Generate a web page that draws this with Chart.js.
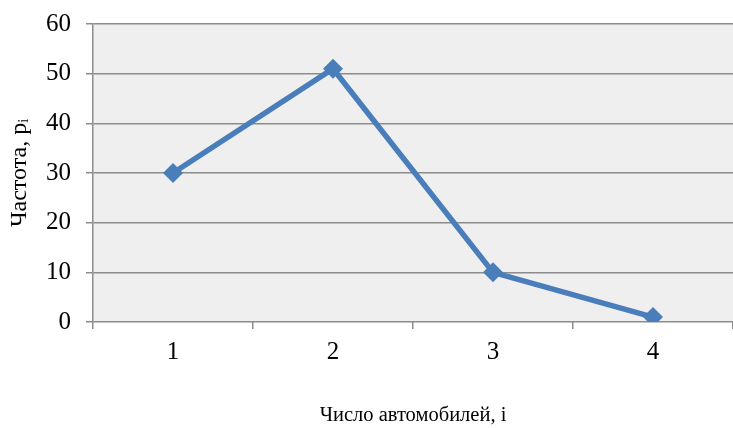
<!DOCTYPE html>
<html>
<head>
<meta charset="utf-8">
<script src="https://cdn.jsdelivr.net/npm/chart.js@4"></script>
<style>
  html, body { margin: 0; padding: 0; background: #fff; }
  #wrap { width: 733px; height: 428px; }
</style>
</head>
<body>
<div id="wrap"><canvas id="chart" width="733" height="428"></canvas></div>
<script>
// chart data
const categories = ['1', '2', '3', '4']
const frequency = [30, 51, 10, 1]
const yTicks = [0, 10, 20, 30, 40, 50, 60]

const FONT = "'Liberation Serif', 'Times New Roman', serif"
const GRID = '#8c8c8c'

// grey plot background
const plotBg = {
  id: 'plotBg',
  beforeDraw (chart) {
    const a = chart.chartArea
    const ctx = chart.ctx
    ctx.save()
    ctx.fillStyle = '#efefef'
    ctx.fillRect(a.left, a.top, a.right - a.left, a.bottom - a.top)
    ctx.restore()
  }
}

new Chart(document.getElementById('chart'), {
  type: 'line',
  data: {
    labels: categories,
    datasets: [{
      data: frequency,
      borderColor: '#4a7ebb',
      backgroundColor: '#4a7ebb',
      borderWidth: 5.5,
      tension: 0,
      pointStyle: 'rectRot',
      pointRadius: 10,
      pointHoverRadius: 10,
      pointBorderWidth: 0
    }]
  },
  options: {
    responsive: false,
    animation: false,
    layout: { autoPadding: false, padding: { top: 24, right: 0, left: 0, bottom: 0 } },
    plugins: {
      legend: { display: false },
      tooltip: { enabled: false }
    },
    scales: {
      x: {
        offset: true,
        grid: { offset: true, drawOnChartArea: false, color: GRID, tickLength: 7, lineWidth: 1.5 },
        border: { display: false },
        ticks: { color: '#000', font: { family: FONT, size: 25 }, padding: 8 },
        title: {
          display: true,
          text: 'Число автомобилей, i',
          color: '#000',
          font: { family: FONT, size: 20.5 },
          padding: { top: 0, bottom: 0 }
        },
        afterFit (scale) {
          scale.height = 106
          scale.paddingLeft = 0
          scale.paddingRight = 0
        }
      },
      y: {
        min: 0,
        max: 60,
        afterBuildTicks (scale) { scale.ticks = yTicks.map(v => ({ value: v })) },
        grid: { color: GRID, tickLength: 7, lineWidth: 1.5 },
        border: { display: true, color: GRID, width: 1.5 },
        ticks: { color: '#000', font: { family: FONT, size: 25 }, padding: 15 },
        title: {
          display: true,
          text: 'Частота, pᵢ',
          color: '#000',
          font: { family: FONT, size: 24 },
          padding: { top: 5, bottom: 0 }
        },
        afterFit (scale) {
          scale.width = 93
          scale.paddingTop = 0
          scale.paddingBottom = 0
        }
      }
    }
  },
  plugins: [plotBg]
})
</script>
</body>
</html>
